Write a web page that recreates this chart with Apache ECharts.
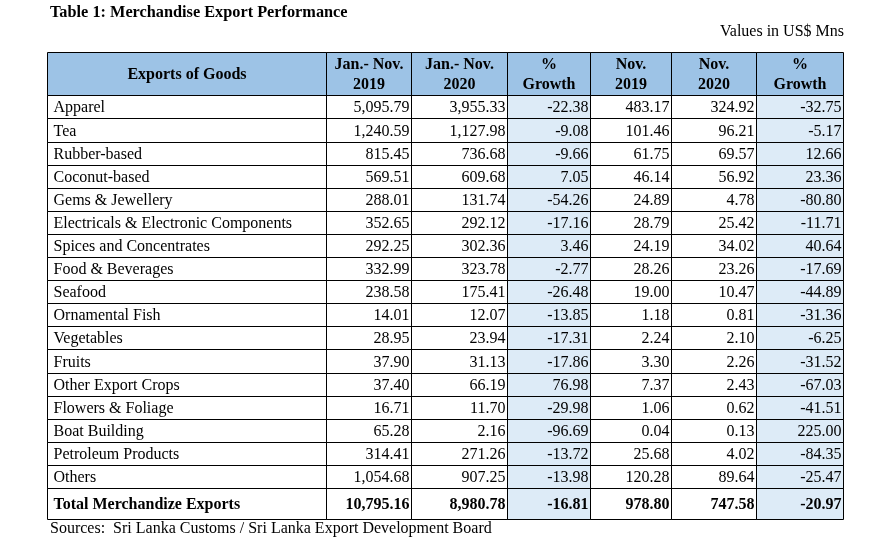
<!DOCTYPE html>
<html><head><meta charset="utf-8">
<script src="https://cdn.jsdelivr.net/npm/echarts@6/dist/echarts.min.js"></script>
<style>html,body{margin:0;padding:0;background:#fff}#c{width:885px;height:540px}</style>
</head><body><div id="c"></div>
<script>
// ---- data ----
const categories = ['Apparel','Tea','Rubber-based','Coconut-based','Gems & Jewellery',
  'Electricals & Electronic Components','Spices and Concentrates','Food & Beverages','Seafood',
  'Ornamental Fish','Vegetables','Fruits','Other Export Crops','Flowers & Foliage','Boat Building',
  'Petroleum Products','Others'];
const janNov2019 = [5095.79,1240.59,815.45,569.51,288.01,352.65,292.25,332.99,238.58,14.01,28.95,37.90,37.40,16.71,65.28,314.41,1054.68];
const janNov2020 = [3955.33,1127.98,736.68,609.68,131.74,292.12,302.36,323.78,175.41,12.07,23.94,31.13,66.19,11.70,2.16,271.26,907.25];
const janNovGrowth = [-22.38,-9.08,-9.66,7.05,-54.26,-17.16,3.46,-2.77,-26.48,-13.85,-17.31,-17.86,76.98,-29.98,-96.69,-13.72,-13.98];
const nov2019 = [483.17,101.46,61.75,46.14,24.89,28.79,24.19,28.26,19.00,1.18,2.24,3.30,7.37,1.06,0.04,25.68,120.28];
const nov2020 = [324.92,96.21,69.57,56.92,4.78,25.42,34.02,23.26,10.47,0.81,2.10,2.26,2.43,0.62,0.13,4.02,89.64];
const novGrowth = [-32.75,-5.17,12.66,23.36,-80.80,-11.71,40.64,-17.69,-44.89,-31.36,-6.25,-31.52,-67.03,-41.51,225.00,-84.35,-25.47];
const totalLabel = 'Total Merchandize Exports';
const totals = [10795.16, 8980.78, -16.81, 978.80, 747.58, -20.97];
const headers = ['Exports of Goods','Jan.- Nov.\n2019','Jan.- Nov.\n2020','%\nGrowth','Nov.\n2019','Nov.\n2020','%\nGrowth'];
const titleText = 'Table 1: Merchandise Export Performance';
const unitText = 'Values in US$ Mns';
const sourceText = 'Sources:  Sri Lanka Customs / Sri Lanka Export Development Board';

// ---- layout ----
const COL_W = [279.2, 84.6, 96.7, 82.7, 81.3, 84.7, 86.8];
const HEADER_H = 43.3, ROW_H = 23.1, TOTAL_H = 30.6;
const FONT = '"Liberation Serif", "Times New Roman", serif';
const HEAD_FILL = '#9DC3E6', GROWTH_FILL = '#DDEBF7';

const colEdges = [0];
COL_W.forEach(w => colEdges.push(colEdges[colEdges.length - 1] + w));
const rowEdges = [0, HEADER_H];
categories.forEach(() => rowEdges.push(rowEdges[rowEdges.length - 1] + ROW_H));
rowEdges.push(rowEdges[rowEdges.length - 1] + TOTAL_H);
const totalW = colEdges[colEdges.length - 1];
const totalH = rowEdges[rowEdges.length - 1];

const fmt = new Intl.NumberFormat('en-US', {minimumFractionDigits: 2, maximumFractionDigits: 2});
const columns = [janNov2019, janNov2020, janNovGrowth, nov2019, nov2020, novGrowth];

// build cells
const cells = [];
headers.forEach((h, c) => cells.push({value: [c, 0], text: h, kind: 'head'}));
categories.forEach((name, i) => {
  cells.push({value: [0, i + 1], text: name, kind: 'name'});
  columns.forEach((arr, j) => cells.push({value: [j + 1, i + 1], text: fmt.format(arr[i]), kind: 'num'}));
});
const tr = categories.length + 1;
cells.push({value: [0, tr], text: totalLabel, kind: 'name', bold: true});
totals.forEach((v, j) => cells.push({value: [j + 1, tr], text: fmt.format(v), kind: 'num', bold: true}));

function snap(v) { return Math.round(v) + 0.5; }

function renderItem(params, api) {
  const cell = cells[params.dataIndex];
  const c = api.value(0), r = api.value(1);
  const p0 = api.coord([colEdges[c], rowEdges[r]]);
  const p1 = api.coord([colEdges[c + 1], rowEdges[r + 1]]);
  const x0 = snap(p0[0]), x1 = snap(p1[0]);
  const y0 = snap(Math.min(p0[1], p1[1])), y1 = snap(Math.max(p0[1], p1[1]));
  let fill = '#ffffff';
  if (cell.kind === 'head') fill = HEAD_FILL;
  else if (c === 3 || c === 6) fill = GROWTH_FILL;
  const bold = cell.kind === 'head' || cell.bold;
  let tx, align;
  if (cell.kind === 'head') { tx = (x0 + x1) / 2; align = 'center'; }
  else if (cell.kind === 'name') { tx = x0 + 6; align = 'left'; }
  else { tx = x1 - 2; align = 'right'; }
  return {
    type: 'group',
    children: [
      {type: 'rect', z2: 0, shape: {x: x0, y: y0, width: x1 - x0, height: y1 - y0}, style: {fill: fill}},
      {type: 'rect', z2: 1, shape: {x: x0, y: y0, width: x1 - x0, height: y1 - y0}, style: {fill: null, stroke: '#000', lineWidth: 1}},
      {type: 'text', z2: 2, style: {
        text: cell.text, x: tx, y: (y0 + y1) / 2 + 1, align: align, verticalAlign: 'middle',
        fontFamily: FONT, fontSize: 16, fontWeight: bold ? 'bold' : 'normal', lineHeight: 20, fill: '#000'
      }}
    ]
  };
}

const chart = echarts.init(document.getElementById('c'), null, {renderer: 'canvas'});
chart.setOption({
  animation: false,
  backgroundColor: '#ffffff',
  title: [
    {text: titleText, left: 50, top: 5, padding: 0,
     textStyle: {fontFamily: FONT, fontSize: 16.3, fontWeight: 'bold', color: '#000'}},
    {text: unitText, right: 41, top: 24, padding: 0,
     textStyle: {fontFamily: FONT, fontSize: 16, fontWeight: 'normal', color: '#000'}},
    {text: sourceText, left: 50, top: 521, padding: 0,
     textStyle: {fontFamily: FONT, fontSize: 16, fontWeight: 'normal', color: '#000'}}
  ],
  grid: {left: 47, top: 52, width: totalW, height: totalH, containLabel: false},
  xAxis: {type: 'value', min: 0, max: totalW, show: false},
  yAxis: {type: 'value', min: 0, max: totalH, inverse: true, show: false},
  tooltip: {show: false},
  series: [{
    type: 'custom',
    renderItem: renderItem,
    encode: {x: 0, y: 1},
    data: cells.map(c => c.value),
    clip: false,
    silent: true
  }]
});
</script>
</body></html>
